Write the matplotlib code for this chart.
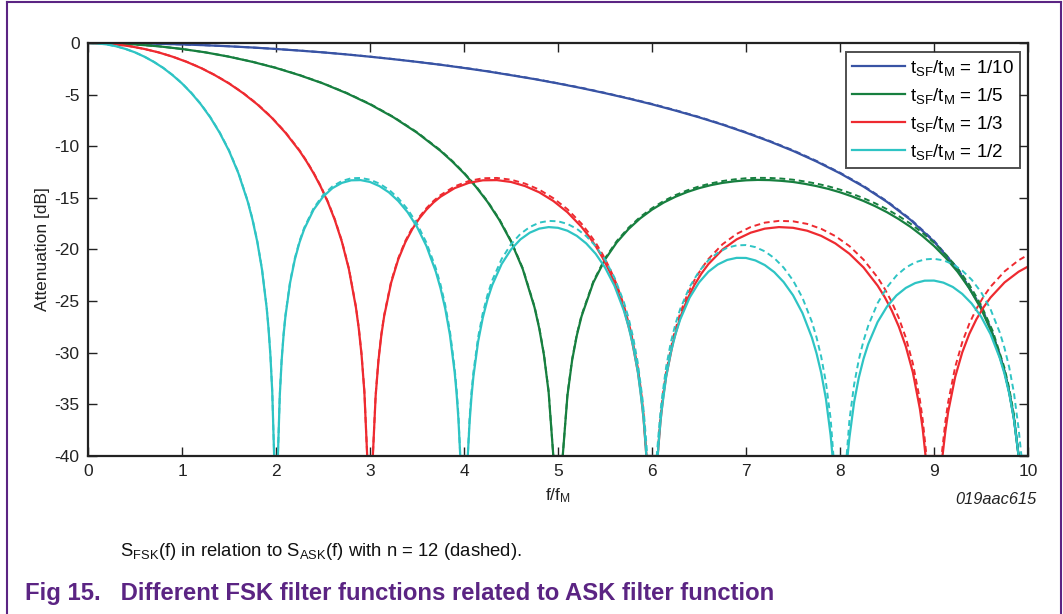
import matplotlib
matplotlib.use('Agg')
import matplotlib.pyplot as plt
from matplotlib.lines import Line2D

plt.rcParams['font.family'] = ['Liberation Sans', 'DejaVu Sans']
plt.rcParams['mathtext.default'] = 'regular'
plt.rcParams['axes.unicode_minus'] = False

# attenuation in dB, t_SF/t_M = 1/10
f_blue = [0, 0.25, 0.5, 0.75, 1.0, 1.25, 1.5, 1.75, 2.0, 2.25, 2.5, 2.75, 3.0, 3.25, 3.5, 3.75,
          4.0, 4.25, 4.5, 4.75, 5.0, 5.25, 5.5, 5.75, 6.0, 6.25, 6.5, 6.75, 7.0, 7.25, 7.5, 7.75,
          8.0, 8.25, 8.5, 8.75, 9.0, 9.25, 9.5, 9.6, 9.7, 9.75, 9.8, 9.85, 9.9, 10.0]
blue_fsk = [0, -0.01, -0.04, -0.08, -0.14, -0.22, -0.32, -0.44, -0.58, -0.74, -0.91, -1.11,
            -1.33, -1.57, -1.83, -2.11, -2.42, -2.75, -3.12, -3.50, -3.92, -4.37, -4.86, -5.38,
            -5.94, -6.55, -7.20, -7.91, -8.69, -9.53, -10.45, -11.48, -12.62, -13.91, -15.39,
            -17.13, -19.23, -21.90, -25.61, -27.63, -30.21, -31.83, -33.81, -36.35, -40, -40]
blue_ask = [0, -0.01, -0.04, -0.08, -0.14, -0.22, -0.32, -0.44, -0.58, -0.73, -0.91, -1.10,
            -1.32, -1.56, -1.82, -2.10, -2.40, -2.73, -3.10, -3.48, -3.90, -4.34, -4.83, -5.35,
            -5.90, -6.51, -7.16, -7.87, -8.64, -9.48, -10.39, -11.42, -12.56, -13.84, -15.32,
            -17.05, -19.15, -21.82, -25.52, -27.54, -30.12, -31.74, -33.72, -36.26, -40, -40]

# t_SF/t_M = 1/5
f_green = [0, 0.25, 0.5, 0.75, 1.0, 1.25, 1.5, 1.75, 2.0, 2.25, 2.5, 2.75, 3.0, 3.25, 3.5, 3.75,
           3.875, 4.0, 4.125, 4.25, 4.375, 4.5, 4.625, 4.75, 4.8, 4.85, 4.9, 4.95,
           5.05, 5.1, 5.15, 5.2, 5.25, 5.375, 5.5, 5.625, 5.75, 5.875, 6.0, 6.125, 6.25, 6.375,
           6.5, 6.625, 6.75, 6.875, 7.0, 7.125, 7.25, 7.375, 7.5, 7.625, 7.75, 7.875, 8.0,
           8.125, 8.25, 8.375, 8.5, 8.625, 8.75, 8.875, 9.0, 9.125, 9.25, 9.375, 9.5, 9.625,
           9.75, 9.8, 9.85, 9.9, 10.0]
green_fsk = [0, -0.04, -0.14, -0.32, -0.58, -0.91, -1.33, -1.83, -2.42, -3.12, -3.92, -4.86,
             -5.94, -7.20, -8.69, -10.45, -11.48, -12.62, -13.91, -15.39, -17.13, -19.23,
             -21.90, -25.61, -27.63, -30.21, -33.81, -40,
             -40, -34.16, -30.73, -28.32, -26.48, -23.21, -20.97, -19.31, -18.02, -16.98,
             -16.14, -15.45, -14.89, -14.43, -14.06, -13.77, -13.55, -13.40, -13.30, -13.26,
             -13.28, -13.35, -13.46, -13.64, -13.86, -14.13, -14.46, -14.85, -15.30, -15.81,
             -16.39, -17.06, -17.81, -18.68, -19.66, -20.81, -22.15, -23.75, -25.72, -28.27,
             -31.86, -33.83, -36.36, -40, -40]
green_ask = [0, -0.04, -0.14, -0.32, -0.58, -0.91, -1.32, -1.82, -2.40, -3.10, -3.90, -4.83,
             -5.90, -7.16, -8.64, -10.39, -11.42, -12.56, -13.84, -15.32, -17.05, -19.15,
             -21.82, -25.52, -27.54, -30.12, -33.72, -40,
             -40, -34.06, -30.63, -28.22, -26.37, -23.10, -20.85, -19.18, -17.89, -16.84,
             -16.00, -15.30, -14.73, -14.27, -13.89, -13.60, -13.37, -13.21, -13.10, -13.06,
             -13.07, -13.13, -13.24, -13.41, -13.62, -13.88, -14.20, -14.59, -15.03, -15.53,
             -16.10, -16.76, -17.50, -18.37, -19.34, -20.48, -21.81, -23.40, -25.36, -27.90,
             -31.48, -33.44, -35.97, -40, -40]

# t_SF/t_M = 1/3
f_red = [0, 0.15, 0.3, 0.45, 0.6, 0.75, 0.9, 1.05, 1.2, 1.35, 1.5, 1.65, 1.8, 1.95, 2.1, 2.25,
         2.325, 2.4, 2.475, 2.55, 2.625, 2.7, 2.775, 2.85, 2.88, 2.91, 2.94, 2.97,
         3.03, 3.06, 3.09, 3.12, 3.15, 3.225, 3.3, 3.375, 3.45, 3.525, 3.6, 3.675, 3.75, 3.9,
         4.05, 4.2, 4.35, 4.5, 4.65, 4.8, 4.95, 5.1, 5.25, 5.325, 5.4, 5.475, 5.55, 5.625,
         5.7, 5.775, 5.85, 5.88, 5.91, 5.94,
         6.06, 6.09, 6.12, 6.15, 6.225, 6.3, 6.375, 6.45, 6.525, 6.6, 6.75, 6.9, 7.05, 7.2,
         7.35, 7.5, 7.65, 7.8, 7.95, 8.1, 8.25, 8.4, 8.475, 8.55, 8.625, 8.7, 8.775, 8.85,
         8.88, 8.91,
         9.09, 9.12, 9.15, 9.225, 9.3, 9.375, 9.45, 9.525, 9.6, 9.75, 9.9, 10.0]
red_fsk = [0, -0.04, -0.14, -0.32, -0.58, -0.91, -1.33, -1.83, -2.42, -3.12, -3.92, -4.86,
           -5.94, -7.20, -8.69, -10.45, -11.48, -12.62, -13.91, -15.39, -17.13, -19.23,
           -21.90, -25.61, -27.63, -30.21, -33.81, -40,
           -40, -34.16, -30.73, -28.32, -26.48, -23.21, -20.97, -19.31, -18.02, -16.98,
           -16.14, -15.45, -14.89, -14.06, -13.55, -13.30, -13.28, -13.46, -13.86, -14.46,
           -15.30, -16.39, -17.81, -18.68, -19.66, -20.81, -22.15, -23.75, -25.72, -28.27,
           -31.86, -33.83, -36.36, -40,
           -40, -36.62, -34.18, -32.29, -28.92, -26.59, -24.83, -23.45, -22.33, -21.41,
           -20.00, -19.02, -18.37, -17.98, -17.83, -17.90, -18.18, -18.68, -19.41, -20.41,
           -21.74, -23.50, -24.60, -25.90, -27.46, -29.39, -31.90, -35.45, -37.41, -40,
           -40, -37.64, -35.74, -32.34, -29.97, -28.18, -26.77, -25.62, -24.66, -23.19,
           -22.15, -21.65]
f_red_ask = f_red[:91] + [8.92, 9.08] + f_red[93:]
red_ask = [0, -0.04, -0.14, -0.32, -0.58, -0.91, -1.32, -1.82, -2.40, -3.10, -3.90, -4.83,
           -5.90, -7.16, -8.64, -10.39, -11.42, -12.56, -13.84, -15.32, -17.05, -19.15,
           -21.82, -25.52, -27.54, -30.12, -33.71, -40,
           -40, -34.05, -30.63, -28.22, -26.37, -23.09, -20.85, -19.18, -17.89, -16.84,
           -16.00, -15.30, -14.73, -13.89, -13.37, -13.10, -13.07, -13.24, -13.62, -14.20,
           -15.03, -16.10, -17.50, -18.37, -19.34, -20.48, -21.81, -23.39, -25.36, -27.90,
           -31.48, -33.44, -35.97, -40,
           -40, -36.19, -33.76, -31.87, -28.49, -26.15, -24.38, -22.99, -21.86, -20.92,
           -19.49, -18.49, -17.82, -17.40, -17.23, -17.27, -17.52, -18.00, -18.70, -19.67,
           -20.98, -22.71, -23.80, -25.08, -26.62, -28.54, -31.04, -34.57, -36.52, -40,
           -40, -36.70, -34.80, -31.38, -28.99, -27.19, -25.76, -24.59, -23.62, -22.12,
           -21.04, -20.52]

# t_SF/t_M = 1/2
f_cyan = [0, 0.1, 0.2, 0.3, 0.4, 0.5, 0.6, 0.7, 0.8, 0.9, 1.0, 1.1, 1.2, 1.3, 1.4, 1.5, 1.6,
          1.7, 1.75, 1.8, 1.85, 1.9, 1.92, 1.94, 1.96, 1.98,
          2.02, 2.04, 2.06, 2.08, 2.1, 2.15, 2.2, 2.25, 2.3, 2.4, 2.5, 2.6, 2.7, 2.8, 2.9, 3.0,
          3.1, 3.2, 3.3, 3.4, 3.5, 3.6, 3.7, 3.75, 3.8, 3.85, 3.9, 3.92, 3.94, 3.96,
          4.04, 4.06, 4.08, 4.1, 4.15, 4.2, 4.25, 4.3, 4.4, 4.5, 4.6, 4.7, 4.8, 4.9, 5.0, 5.1,
          5.2, 5.3, 5.4, 5.5, 5.6, 5.7, 5.75, 5.8, 5.85, 5.9, 5.92, 5.94,
          6.06, 6.08, 6.1, 6.15, 6.2, 6.25, 6.3, 6.4, 6.5, 6.6, 6.7, 6.8, 6.9, 7.0, 7.1, 7.2,
          7.3, 7.4, 7.5, 7.6, 7.7, 7.75, 7.8, 7.85, 7.9, 7.92,
          8.08, 8.1, 8.15, 8.2, 8.25, 8.3, 8.4, 8.5, 8.6, 8.7, 8.8, 8.9, 9.0, 9.1, 9.2, 9.3,
          9.4, 9.5, 9.6, 9.7, 9.75, 9.8, 9.85, 9.9, 10.0]
cyan_fsk = [0, -0.04, -0.14, -0.32, -0.58, -0.91, -1.33, -1.83, -2.42, -3.12, -3.92, -4.86,
            -5.94, -7.20, -8.69, -10.45, -12.62, -15.39, -17.13, -19.23, -21.90, -25.61,
            -27.63, -30.21, -33.81, -40,
            -40, -34.16, -30.73, -28.32, -26.48, -23.21, -20.97, -19.31, -18.02, -16.14,
            -14.89, -14.06, -13.55, -13.30, -13.28, -13.46, -13.86, -14.46, -15.30, -16.39,
            -17.81, -19.66, -22.15, -23.75, -25.72, -28.27, -31.86, -33.83, -36.36, -40,
            -40, -36.62, -34.18, -32.29, -28.92, -26.59, -24.83, -23.45, -21.41, -20.00,
            -19.02, -18.37, -17.98, -17.83, -17.90, -18.18, -18.68, -19.41, -20.41, -21.74,
            -23.50, -25.90, -27.46, -29.39, -31.90, -35.45, -37.41, -40,
            -40, -37.64, -35.74, -32.34, -29.97, -28.18, -26.77, -24.66, -23.19, -22.15,
            -21.45, -21.01, -20.81, -20.82, -21.06, -21.51, -22.19, -23.15, -24.43, -26.15,
            -28.51, -30.05, -31.96, -34.46, -37.99, -40,
            -40, -38.21, -34.78, -32.40, -30.59, -29.16, -27.02, -25.52, -24.45, -23.72,
            -23.25, -23.02, -23.01, -23.21, -23.63, -24.30, -25.23, -26.49, -28.18, -30.52,
            -32.05, -33.95, -36.43, -40, -40]
f_cyan_ask = f_cyan[:83] + [5.95, 6.05] + f_cyan[85:109] + [7.93, 8.07] + f_cyan[111:-1] \
    + [9.93, 10.0]
cyan_ask = [0, -0.04, -0.14, -0.32, -0.58, -0.91, -1.32, -1.82, -2.40, -3.10, -3.90, -4.83,
            -5.90, -7.16, -8.64, -10.39, -12.56, -15.32, -17.05, -19.15, -21.82, -25.52,
            -27.54, -30.12, -33.71, -40,
            -40, -34.05, -30.63, -28.22, -26.37, -23.09, -20.85, -19.18, -17.89, -16.00,
            -14.73, -13.89, -13.37, -13.10, -13.07, -13.24, -13.62, -14.20, -15.03, -16.10,
            -17.50, -19.34, -21.81, -23.39, -25.36, -27.90, -31.48, -33.44, -35.97, -40,
            -40, -36.19, -33.76, -31.87, -28.49, -26.15, -24.38, -22.99, -20.92, -19.49,
            -18.49, -17.82, -17.40, -17.23, -17.27, -17.52, -18.00, -18.70, -19.67, -20.98,
            -22.71, -25.08, -26.62, -28.54, -31.04, -34.57, -36.52, -40,
            -40, -36.70, -34.80, -31.38, -28.99, -27.19, -25.76, -23.62, -22.12, -21.04,
            -20.31, -19.83, -19.60, -19.57, -19.77, -20.18, -20.83, -21.75, -22.99, -24.67,
            -26.99, -28.51, -30.40, -32.87, -36.38, -40,
            -40, -36.52, -33.07, -30.66, -28.84, -27.38, -25.19, -23.65, -22.53, -21.75,
            -21.24, -20.96, -20.90, -21.05, -21.42, -22.04, -22.92, -24.12, -25.76, -28.05,
            -29.55, -31.42, -33.87, -37.37, -40, -40]

labels = ['1/10', '1/5', '1/3', '1/2']
colors = ['#3853a4', '#177f3f', '#ee2a30', '#2ec4c4']
purple = '#5b2483'
ink = '#222222'

fig = plt.figure(figsize=(10.63, 6.14), dpi=100)
ax = fig.add_axes([0.0828, 0.2573, 0.8843, 0.6727])

series = [(f_blue, blue_fsk, f_blue, blue_ask),
          (f_green, green_fsk, f_green, green_ask),
          (f_red, red_fsk, f_red_ask, red_ask),
          (f_cyan, cyan_fsk, f_cyan_ask, cyan_ask)]
for (fx, fsk, fa, ask), lab, c in zip(series, labels, colors):
    ax.plot(fx, fsk, color=c, lw=1.6, label=r'$t_{SF}/t_{M}$ = ' + lab)
    ax.plot(fa, ask, color=c, lw=1.4, ls=(0, (3, 2)))

ax.set_xlim(0, 10)
ax.set_ylim(-40, 0)
ax.set_xticks(range(0, 11))
ax.set_yticks(range(-40, 1, 5))
ax.tick_params(direction='in', length=6.5, width=1, top=True, right=True,
               labelsize=12.5, pad=6, colors=ink, labelcolor=ink)
for s in ax.spines.values():
    s.set_linewidth(1.6)
    s.set_color(ink)
ax.set_xlabel(r'f/$f_M$', fontsize=12.5, labelpad=5, color=ink)
ax.set_ylabel('Attenuation [dB]', fontsize=12.5, labelpad=3, color=ink)

leg = ax.legend(loc='upper right', bbox_to_anchor=(1020 / 1063, 1 - 52 / 614),
                bbox_transform=fig.transFigure, borderaxespad=0, fontsize=13.5,
                frameon=True, fancybox=False, edgecolor=ink, handlelength=2.8,
                handletextpad=0.3, labelspacing=0.42, borderpad=0.32)
leg.get_frame().set_linewidth(1.4)

fig.text(1037 / 1063, 0.186, '019aac615', fontsize=11.8, style='italic', ha='right',
         va='center', color=ink)
fig.text(120 / 1063, 0.101, r'$S_{FSK}$(f) in relation to $S_{ASK}$(f) with n = 12 (dashed).',
         fontsize=13.3, ha='left', va='center', color='#111111')
fig.text(25 / 1063, 0.034, 'Fig 15.   Different FSK filter functions related to ASK filter function',
         fontsize=17.2, weight='bold', ha='left', va='center', color=purple)

# purple frame round the figure
fig.add_artist(Line2D([7 / 1063, 1061 / 1063], [0.9967, 0.9967], color=purple, lw=1.5))
fig.add_artist(Line2D([7 / 1063, 7 / 1063], [0, 0.9967], color=purple, lw=1.5))
fig.add_artist(Line2D([1061 / 1063, 1061 / 1063], [0, 0.9967], color=purple, lw=1.5))

fig.savefig('out.png', dpi=100)
